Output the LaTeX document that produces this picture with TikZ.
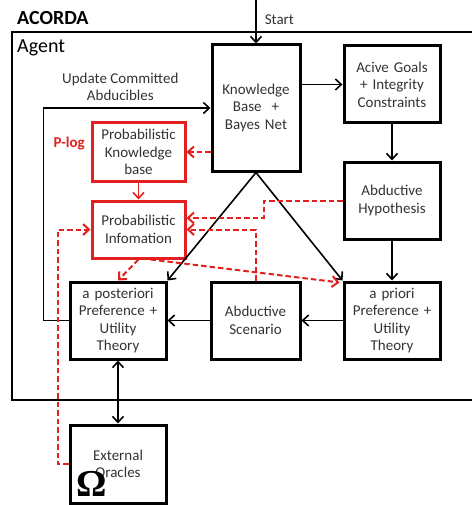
\documentclass[tikz,border=0pt]{standalone}
\usepackage{fontspec}
\setmainfont{Carlito}
\newfontfamily\omegafont{Liberation Serif}
\usetikzlibrary{arrows.meta, positioning}
\definecolor{plogred}{RGB}{226,32,32}
\newcommand{\boxfont}{\fontsize{15}{17.5}\selectfont}
\tikzstyle{block} = [rectangle, draw=black, line width=3pt, minimum width=96pt, minimum height=77pt, text width=92pt, inner sep=0pt, align=center, text=black!80, font=\boxfont]
\tikzstyle{redblock} = [block, draw=plogred, minimum width=93pt, minimum height=57pt]
\tikzstyle{arrow} = [line width=1.6pt, ->, >={Straight Barb[length=6pt,width=11pt]}]
\tikzstyle{redarrow} = [arrow, line width=2pt, color=plogred, dash pattern=on 5.5pt off 3pt]

\begin{document}
\begin{tikzpicture}[x=1pt, y=-1pt]
\useasboundingbox (0,0) rectangle (471,505);

% agent frame
\draw [line width=2.2pt] (12,32) rectangle (476,400);
\node (title) [anchor=west, inner sep=0pt, font=\bfseries\fontsize{20}{20}\selectfont] at (17,18) {ACORDA};
\node (agentlbl) [anchor=west, inner sep=0pt, font=\fontsize{20}{20}\selectfont] at (17,48) {Agent};

\node (kb) [block, minimum width=88pt, minimum height=126pt, text width=86pt] at (256,108) {Knowledge\\Base~~+\\Bayes Net};
\node (goals) [block] at (392,84.5) {Acive Goals\\+ Integrity\\Constraints};
\node (hyp) [block, below=36pt of goals] {Abductive\\Hypothesis};
\node (prior) [block, below=40pt of hyp] {a priori\\Preference +\\Utility\\Theory};
\node (scen) [block, minimum width=89pt, text width=87pt, left=41pt of prior] {Abductive\\Scenario};
\node (post) [block, left=42pt of scen] {a posteriori\\Preference +\\Utility\\Theory};
\node (oracle) [block, minimum height=78pt, below=63pt of post] {External\\Oracles};
\node (omega) [inner sep=0pt, font=\omegafont\bfseries\fontsize{38}{38}\selectfont] at (92,484) {Ω};

\node (pkb) [redblock, minimum height=58pt] at (138.5,152) {Probabilistic\\Knowledge\\base};
\node (pinfo) [redblock, below=17pt of pkb] {Probabilistic\\Infomation};
\node (plog) [anchor=east, inner sep=0pt, text=plogred, font=\bfseries\boxfont] at (85,144) {P-log};

\coordinate (start) at (256,0);

\draw [arrow] (start) -- node[right=8pt, pos=0.45, inner sep=0pt, text=black!80, font=\boxfont] {Start} (kb);
\draw [arrow] (kb.east |- goals) -- (goals);
\draw [arrow] (goals) -- (hyp);
\draw [arrow] (hyp) -- (prior);
\draw [arrow] (prior) -- (scen);
\draw [arrow] (scen) -- (post);
\draw [arrow] (kb.south) -- (post.north east);
\draw [arrow] (kb.south) -- (prior.north west);
\draw [arrow] (post.west) -- ++(-25pt,0) |- node[above=3pt, pos=0.73, align=center, text=black!80, font=\boxfont] {Update Committed\\Abducibles} (kb.west);
\draw [arrow, <->] (post) -- (oracle);

\draw [redarrow] (kb.west |- pkb) -- (pkb);
\draw [arrow, color=plogred] (pkb) -- (pinfo);
\draw [redarrow] (hyp.west) -- ++(-79pt,0) |- ([yshift=11.5pt]pinfo.east);
\draw [redarrow] (scen.north) |- (pinfo.east);
\draw [redarrow] (pinfo.south) -- (post.north);
\draw [redarrow] ([xshift=12pt]pinfo.south) -- ([xshift=-3pt, yshift=-2pt]prior.north west);
\draw [redarrow] (oracle.west) -- ++(-11pt,0) |- (pinfo.west);

\end{tikzpicture}
\end{document}
